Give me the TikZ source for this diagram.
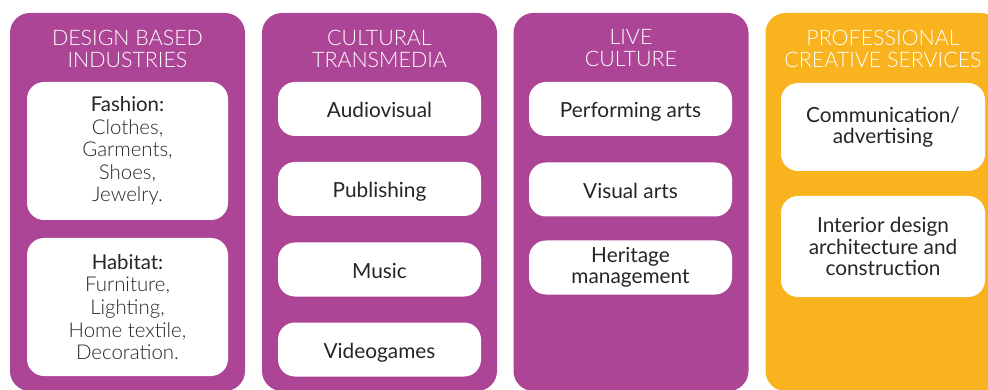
\documentclass[tikz,border=0pt]{standalone}
\usepackage{fontspec}
\setmainfont{Lato}
\newfontfamily\lightfont{Lato Light}
\definecolor{plum}{HTML}{AD4596}
\definecolor{amber}{HTML}{F9B31E}
\definecolor{ink}{HTML}{262626}
\begin{document}
\begin{tikzpicture}[x=1pt,y=-1pt,
  column/.style={rounded corners=20pt, minimum width=235pt, minimum height=378pt, inner sep=0pt},
  heading/.style={text=white, align=center, font=\lightfont\fontsize{21.4}{22}\selectfont, inner sep=0pt},
  card/.style={fill=white, rounded corners=17pt, minimum width=203pt, inner sep=0pt,
    align=center, text=ink, font=\fontsize{20.8}{21.5}\selectfont},
  smallcard/.style={card, minimum height=54pt},
  onelinecard/.style={smallcard, text height=18pt, text depth=0pt},
  listcard/.style={card, minimum width=201pt, minimum height=138pt, font=\fontsize{20.4}{22.6}\selectfont}
]
\useasboundingbox (0,0) rectangle (988,390);
\begin{scope}
\clip (0,0) rectangle (988,390);
% four category columns
\node[column, fill=plum]  (c1) at (127.5,202) {};
\node[column, fill=plum]  (c2) at (379.5,202) {};
\node[column, fill=plum]  (c3) at (631,202) {};
\node[column, fill=amber] (c4) at (883,202) {};

% column headings
\node[heading] (h1) at (127.5,48.5) {DESIGN BASED\\INDUSTRIES};
\node[heading] (h2) at (379.5,48.5) {CULTURAL\\TRANSMEDIA};
\node[heading] (h3) at (631,48.5) {LIVE\\CULTURE};
\node[heading] (h4) at (883,48.5) {PROFESSIONAL\\CREATIVE SERVICES};

% design based industries
\node[listcard] (fashion) at (127.5,151) {Fashion:\\{\lightfont Clothes,}\\{\lightfont Garments,}\\{\lightfont Shoes,}\\{\lightfont Jewelry.}};
\node[listcard] (habitat) at (127.5,307) {Habitat:\\{\lightfont Furniture,}\\{\lightfont Lighting,}\\{\lightfont Home textile,}\\{\lightfont Decoration.}};

% cultural transmedia
\node[onelinecard] (audio) at (379.5,109) {Audiovisual};
\node[onelinecard] (pub)   at (379.5,189) {Publishing};
\node[onelinecard] (music) at (379.5,269.5) {Music};
\node[onelinecard] (games) at (379.5,349.5) {Videogames};

% live culture
\node[onelinecard] (perf)  at (630.5,109) {Performing arts};
\node[onelinecard] (vis)   at (630.5,189.5) {Visual arts};
\node[smallcard] (herit) at (630.5,267.5) {Heritage\\management};

% professional creative services
\node[card, minimum width=204pt, minimum height=88pt] (comm) at (883,127) {Communication/\\advertising};
\node[card, minimum width=204pt, minimum height=101pt] (inter) at (883,246.5) {Interior design\\architecture and\\construction};
\end{scope}
\end{tikzpicture}
\end{document}
